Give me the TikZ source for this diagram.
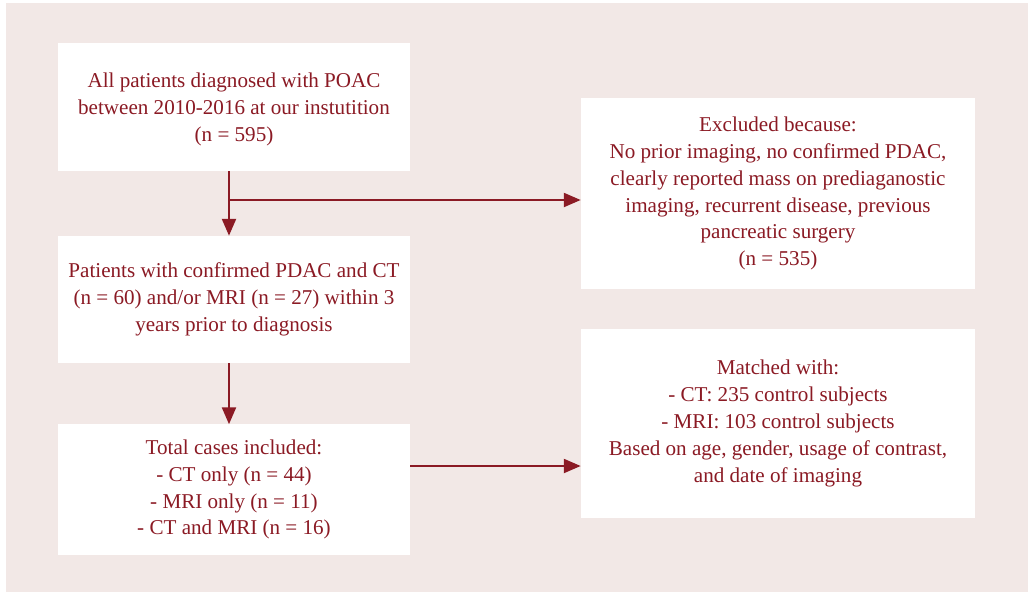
\documentclass[tikz,border=0pt]{standalone}
\usepackage{fontspec}
\setmainfont{Liberation Serif}
\usetikzlibrary{arrows.meta}
\definecolor{flowred}{HTML}{8B1A24}
\definecolor{flowbg}{HTML}{F2E8E6}
\tikzset{
    flowbox/.style={fill=white, text=flowred, align=center, inner sep=0pt,
        font=\fontsize{15}{19.1}\selectfont},
    flowarrow/.style={draw=flowred, line width=1.4pt,
        -{Triangle[length=12pt,width=10pt]}}
}
\begin{document}
\begin{tikzpicture}[x=0.025cm, y=-0.025cm]
        \useasboundingbox (0,0) rectangle (1028,592);
        % background
        \fill[flowbg] (6,3) rectangle (1028,592);

        % left column
        \node[flowbox, minimum width=8.8cm, minimum height=3.2cm, text depth=-0.1cm] (all) at (234,107)
            {All patients diagnosed with POAC\\between 2010-2016 at our instutition\\(n = 595)};
        \node[flowbox, minimum width=8.8cm, minimum height=3.175cm] (conf) at (234,299.5)
            {Patients with confirmed PDAC and CT\\(n = 60) and/or MRI (n = 27) within 3\\years prior to diagnosis};
        \node[flowbox, minimum width=8.8cm, minimum height=3.25cm] (incl) at (234,489.5)
            {Total cases included:\\- CT only (n = 44)\\- MRI only (n = 11)\\- CT and MRI (n = 16)};

        % right column
        \node[flowbox, minimum width=9.85cm, minimum height=4.775cm] (excl) at (778,193.5)
            {Excluded because:\\No prior imaging, no confirmed PDAC,\\clearly reported mass on prediaganostic\\imaging, recurrent disease, previous\\pancreatic surgery\\(n = 535)};
        \node[flowbox, minimum width=9.85cm, minimum height=4.725cm] (match) at (778,423.5)
            {Matched with:\\- CT: 235 control subjects\\- MRI: 103 control subjects\\Based on age, gender, usage of contrast,\\and date of imaging};

        % arrows
        \coordinate (split) at ([xshift=-0.125cm]all.south |- 0,200);
        \draw[flowarrow] ([xshift=-0.125cm]all.south) -- ([xshift=-0.125cm]conf.north);
        \draw[flowarrow] (split) -- (excl.west |- split);
        \draw[flowarrow] ([xshift=-0.125cm]conf.south) -- ([xshift=-0.125cm]incl.north);
        \draw[flowarrow] (incl.east |- 0,466) -- (match.west |- 0,466);
\end{tikzpicture}
\end{document}
